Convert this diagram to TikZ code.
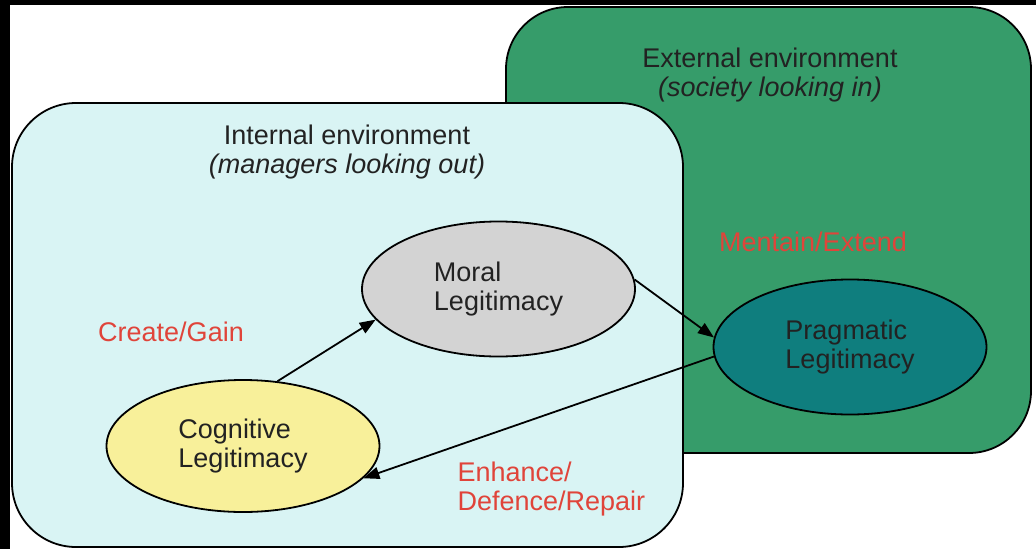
\documentclass[tikz,border=0pt]{standalone}
\usepackage{fontspec}
\setmainfont{Liberation Sans}
\usetikzlibrary{shapes.geometric,arrows.meta}
\definecolor{extgreen}{HTML}{369C6A}
\definecolor{incyan}{HTML}{D9F4F4}
\definecolor{mgray}{HTML}{D3D3D3}
\definecolor{pteal}{HTML}{0F7E7E}
\definecolor{cyellow}{HTML}{F8F09A}
\definecolor{lblred}{HTML}{E0443A}
\definecolor{textdark}{HTML}{222222}
\tikzset{
  boxline/.style={draw=black, line width=1.8pt},
  ell/.style={ellipse, draw=black, line width=1.8pt, minimum width=273pt, minimum height=135pt,
    inner sep=0pt, align=left, text=textdark, font=\fontsize{27}{29.5}\selectfont},
  titletext/.style={align=center, text=textdark, font=\fontsize{27}{29}\selectfont},
  redlbl/.style={text=lblred, font=\fontsize{27}{28.5}\selectfont},
  arr/.style={draw=black, line width=1.8pt, -{Triangle[length=16pt,width=12pt]}}
}
\begin{document}
\begin{tikzpicture}[x=1pt,y=-1pt]
\useasboundingbox (0,0) rectangle (1036,549);
\fill[black] (0,0) rectangle (1036,549);
\fill[white] (10,5) rectangle (1036,549);
% boxes
\draw[boxline, fill=extgreen, rounded corners=62pt] (506,7) rectangle (1031,453);
\draw[boxline, fill=incyan, rounded corners=64pt] (12,103) rectangle (683,547);
% titles
\node[titletext] (exttitle) at (770,75) {External environment\\\textit{(society looking in)}};
\node[titletext] (inttitle) at (347,152) {Internal environment\\\textit{(managers looking out)}};
% ellipses
\node[ell, fill=mgray] (moral) at (498.5,289) {\raisebox{0pt}[\height][\depth]{}Moral\\Legitimacy};
\node[ell, fill=pteal] (prag) at (850,347) {Pragmatic\\Legitimacy};
\node[ell, fill=cyellow, minimum height=132pt] (cog) at (243,446) {Cognitive\\Legitimacy};
% arrows
\draw[arr] (cog.62) -- (moral.194);
\draw[arr] (moral.4) -- (prag.176);
\draw[arr] (prag.184) -- (cog.345);
% labels
\node[redlbl] (create) at (171,332) {Create/Gain};
\node[redlbl] (mentain) at (813,242) {Mentain/Extend};
\node[redlbl, align=left, anchor=west] (enhance) at (454,489) {Enhance/\\Defence/Repair};
\end{tikzpicture}
\end{document}
